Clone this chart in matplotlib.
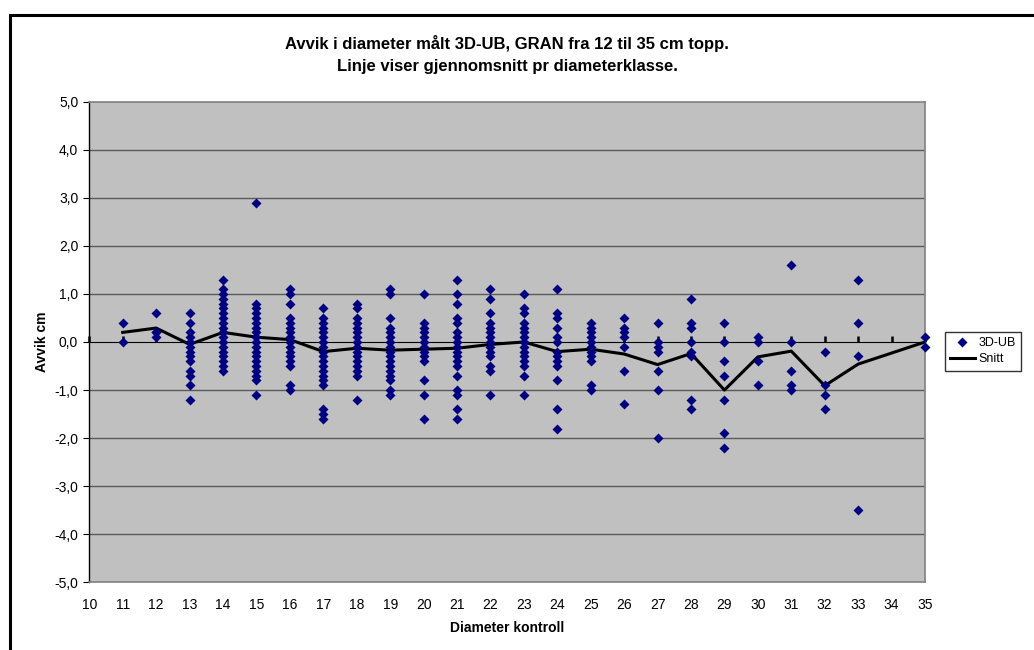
import numpy as np
import matplotlib.pyplot as plt
from matplotlib.patches import Rectangle
from matplotlib.ticker import FuncFormatter, NullFormatter

plt.rcParams['font.family'] = ['Liberation Sans', 'DejaVu Sans']

# avvik (cm) per diameterklasse
avvik = {
    11: [0.4, 0.0],
    12: [0.6, 0.2, 0.2, 0.1],
    13: [0.6, 0.4, 0.2, 0.1, 0.0, -0.1, -0.2, -0.3, -0.4, -0.6, -0.7, -0.9, -1.2],
    14: [1.3, 1.1, 1.0, 0.9, 0.8, 0.7, 0.6, 0.5, 0.4, 0.3, 0.2, 0.1, 0.0,
         -0.1, -0.2, -0.3, -0.4, -0.5, -0.6],
    15: [2.9, 0.8, 0.7, 0.6, 0.5, 0.4, 0.3, 0.2, 0.1, 0.0, -0.1, -0.2, -0.3,
         -0.4, -0.5, -0.6, -0.7, -0.8, -1.1],
    16: [1.1, 1.0, 0.8, 0.5, 0.4, 0.3, 0.2, 0.1, 0.0, -0.1, -0.2, -0.3, -0.4,
         -0.5, -0.9, -1.0],
    17: [0.7, 0.5, 0.4, 0.3, 0.2, 0.1, 0.0, -0.1, -0.2, -0.3, -0.4, -0.5, -0.6,
         -0.7, -0.8, -0.9, -1.4, -1.5, -1.6],
    18: [0.8, 0.7, 0.5, 0.4, 0.3, 0.2, 0.1, 0.0, -0.1, -0.2, -0.3, -0.4, -0.5,
         -0.6, -0.7, -1.2],
    19: [1.1, 1.0, 0.5, 0.3, 0.2, 0.1, 0.0, -0.1, -0.2, -0.3, -0.4, -0.5, -0.6,
         -0.7, -0.8, -1.0, -1.1],
    20: [1.0, 0.4, 0.3, 0.2, 0.1, 0.0, -0.1, -0.2, -0.3, -0.4, -0.8, -1.1, -1.6],
    21: [1.3, 1.0, 0.8, 0.5, 0.4, 0.2, 0.1, 0.0, -0.1, -0.2, -0.3, -0.4, -0.5,
         -0.7, -1.0, -1.1, -1.4, -1.6],
    22: [1.1, 0.9, 0.6, 0.4, 0.3, 0.2, 0.1, 0.0, -0.1, -0.2, -0.3, -0.5, -0.6, -1.1],
    23: [1.0, 0.7, 0.6, 0.4, 0.3, 0.2, 0.1, 0.0, -0.1, -0.2, -0.3, -0.4, -0.5,
         -0.7, -1.1],
    24: [1.1, 0.6, 0.5, 0.3, 0.1, 0.0, -0.2, -0.3, -0.4, -0.5, -0.8, -1.4, -1.8],
    25: [0.4, 0.3, 0.2, 0.1, 0.0, -0.1, -0.2, -0.3, -0.4, -0.9, -1.0],
    26: [0.5, 0.3, 0.2, 0.1, -0.1, -0.6, -1.3],
    27: [0.4, 0.0, -0.1, -0.2, -0.6, -1.0, -2.0],
    28: [0.9, 0.4, 0.3, 0.0, -0.2, -0.3, -1.2, -1.4],
    29: [0.4, 0.0, -0.4, -0.7, -1.2, -1.9, -2.2],
    30: [0.1, 0.0, -0.4, -0.9],
    31: [1.6, 0.0, -0.6, -0.9, -1.0],
    32: [-0.2, -0.9, -1.1, -1.4],
    33: [1.3, 0.4, -0.3, -3.5],
    35: [0.1, -0.1],
}

# gjennomsnitt pr diameterklasse
snitt_klasse = [11, 12, 13, 14, 15, 16, 17, 18, 19, 20, 21, 22, 23, 24, 25,
                26, 27, 28, 29, 30, 31, 32, 33, 35]
snitt = [0.2, 0.29, -0.05, 0.2, 0.1, 0.05, -0.2, -0.13, -0.17, -0.15, -0.13,
         -0.05, 0.0, -0.2, -0.15, -0.25, -0.47, -0.24, -1.0, -0.31, -0.19,
         -0.91, -0.46, 0.0]

xs = np.concatenate([[k] * len(v) for k, v in avvik.items()])
ys = np.concatenate([v for v in avvik.values()])

fig = plt.figure(figsize=(10.34, 6.5), dpi=100)
ax = fig.add_axes([89.3 / 1034, 1 - 582.3 / 650, (925 - 89.3) / 1034, (582.3 - 101.7) / 650])
ax.set_facecolor('#C0C0C0')

ax.set_xlim(10, 35)
ax.set_ylim(-5, 5)
ax.set_yticks(np.arange(-5, 6, 1))
ax.set_xticks(np.arange(10, 36, 1))
ax.yaxis.set_major_formatter(FuncFormatter(lambda v, p: f'{v:.1f}'.replace('.', ',')))

for y in range(-4, 5):
    if y != 0:
        ax.axhline(y, color='#5a5a5a', lw=1.0, zorder=1)

# kategoriakse ved 0 med merker nedover
zero = ax.secondary_xaxis(0.5)
zero.set_xticks(np.arange(10, 36, 1))
zero.xaxis.set_major_formatter(NullFormatter())
zero.tick_params(direction='out', length=4, width=1.8, color='black')
zero.spines['bottom'].set_linewidth(2.4)
zero.spines['bottom'].set_color('black')

ax.scatter(xs, ys, marker='D', s=26, color='#000080', zorder=4, clip_on=False,
           linewidths=0, label='3D-UB')
ax.plot(snitt_klasse, snitt, color='black', lw=2.2, zorder=3, label='Snitt')

for side in ['top', 'right', 'bottom']:
    ax.spines[side].set_color('#808080')
    ax.spines[side].set_linewidth(1.2)
ax.spines['left'].set_color('black')
ax.spines['left'].set_linewidth(1.0)

ax.tick_params(axis='x', length=0, pad=11, labelsize=10)
ax.tick_params(axis='y', length=4, direction='out', pad=4, labelsize=10)

ax.set_xlabel('Diameter kontroll', fontsize=10, fontweight='bold', labelpad=7)
ax.set_ylabel('Avvik cm', fontsize=10, fontweight='bold', labelpad=4)
ax.set_title('Avvik i diameter målt 3D-UB, GRAN fra 12 til 35 cm topp.\n'
             'Linje viser gjennomsnitt pr diameterklasse.',
             fontsize=12, fontweight='bold', pad=22, linespacing=1.6)

leg = fig.legend(loc='center left', bbox_to_anchor=(942 / 1034, 1 - 351 / 650),
                 fontsize=9, frameon=True, fancybox=False, edgecolor='black',
                 handlelength=2.0, borderpad=0.4, labelspacing=0.4, handletextpad=0.3,
                 borderaxespad=0.2, scatterpoints=1)
leg.get_frame().set_linewidth(1.0)

# ramme rundt hele diagrammet
fig.patches.append(Rectangle((10 / 1034, -0.1), 1.2, 1.1 - 15 / 650,
                             transform=fig.transFigure, fill=False, edgecolor='black',
                             lw=2.2))

fig.savefig('out.png', dpi=100)
